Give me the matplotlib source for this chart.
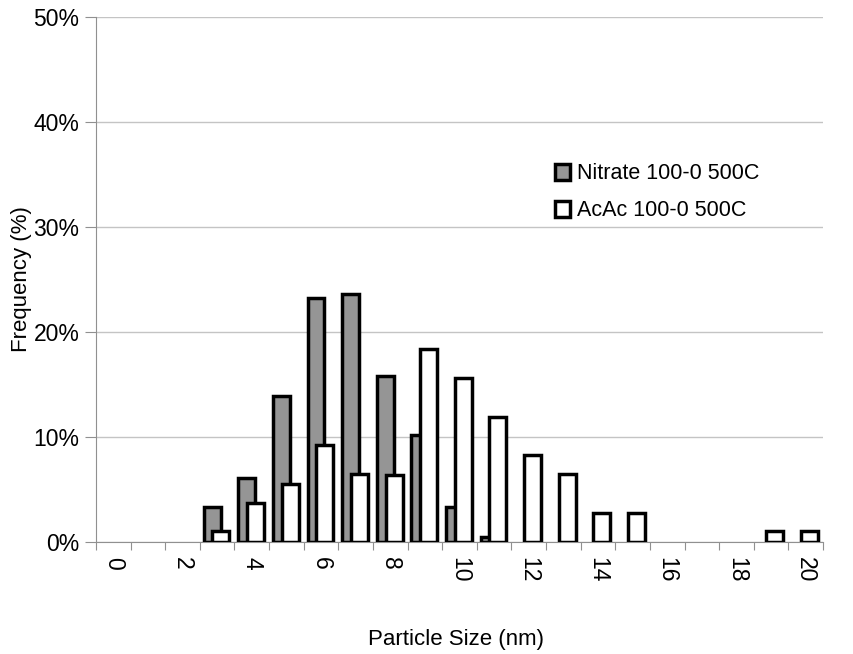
import matplotlib.pyplot as plt
import numpy as np

plt.rcParams['font.family'] = ['Liberation Sans', 'DejaVu Sans']

# particle size classes (nm)
sizes = list(range(0, 21))
tick_labels = [str(s) if s % 2 == 0 else '' for s in sizes]

# frequency (%) per size class
nitrate = [0, 0, 0, 3.3, 6.1, 13.9, 23.2, 23.6, 15.8, 10.2, 3.3, 0.5,
           0, 0, 0, 0, 0, 0, 0, 0, 0]
acac = [0, 0, 0, 1.0, 3.7, 5.5, 9.2, 6.5, 6.4, 18.4, 15.6, 11.9,
        8.3, 6.5, 2.8, 2.8, 0, 0, 0, 1.0, 1.0]

x = np.array(sizes)
n = np.array(nitrate)
a = np.array(acac)

fig = plt.figure(figsize=(8.54, 6.54), dpi=100)
ax = fig.add_axes([0.1124, 0.1713, 0.8513, 0.8027])

w = 0.49
mn = n > 0
ma = a > 0
ax.bar(x[mn] - 0.145, n[mn], w, color='#959595', edgecolor='black',
       linewidth=2.5, label='Nitrate 100-0 500C', zorder=3)
ax.bar(x[ma] + 0.11, a[ma], w, color='white', edgecolor='black',
       linewidth=2.5, label='AcAc 100-0 500C', zorder=4)

ax.set_xlim(-0.5, 20.5)
ax.set_ylim(0, 50)
ax.set_yticks([0, 10, 20, 30, 40, 50])
ax.set_yticklabels(['%d%%' % v for v in [0, 10, 20, 30, 40, 50]], fontsize=16.5)
ax.yaxis.grid(True, color='#c4c4c4', linewidth=1, zorder=0)

# ticks on category boundaries, labels at category centres
ax.set_xticks(np.arange(-0.5, 21, 1.0))
ax.set_xticklabels([])
ax.set_xticks(x, minor=True)
ax.set_xticklabels(tick_labels, minor=True, rotation=-90, fontsize=16.5)
ax.tick_params(axis='x', which='minor', length=0, pad=11)
ax.tick_params(axis='x', which='major', length=6, color='#909090')
ax.tick_params(axis='y', length=8, color='#909090', pad=4)

for s in ['top', 'right']:
    ax.spines[s].set_visible(False)
for s in ['left', 'bottom']:
    ax.spines[s].set_color('#909090')

ax.set_ylabel('Frequency (%)', fontsize=16)
ax.yaxis.set_label_coords(-0.088, 0.5)
ax.set_xlabel('Particle Size (nm)', fontsize=16)
ax.xaxis.set_label_coords(0.495, -0.165)

ax.legend(loc='upper left', bbox_to_anchor=(0.627, 0.78),
          bbox_transform=fig.transFigure, frameon=False, fontsize=15.5,
          handlelength=0.7, handleheight=0.8, handletextpad=0.35,
          labelspacing=0.75)

fig.savefig('out.png', dpi=100)
